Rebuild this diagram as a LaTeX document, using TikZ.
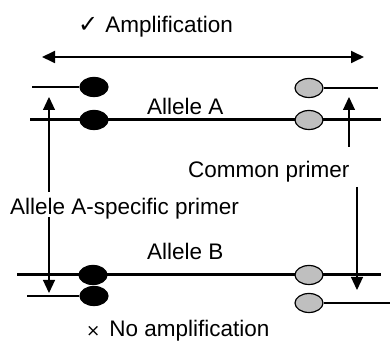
\documentclass[tikz,border=0pt]{standalone}
\usepackage{fontspec}
\setmainfont{Liberation Sans}
\newfontfamily\symfont{DejaVu Sans}
\usetikzlibrary{shapes.geometric,arrows.meta}

\begin{document}
\begin{tikzpicture}[x=1pt,y=-1pt,
  lbl/.style={font=\fontsize{22.5}{25}\selectfont, inner sep=0pt, anchor=base west},
  strand/.style={line width=3pt},
  primer/.style={line width=1.5pt},
  marker/.style={ellipse, draw=black, line width=1.2pt, minimum width=28pt,
                 minimum height=19pt, inner sep=0pt},
  snp/.style={marker, fill=black},
  common/.style={marker, fill=gray!50},
  pointer/.style={line width=1.2pt, -{Triangle[length=13pt,width=12pt]}},
  span/.style={line width=1.8pt,
               {Triangle[length=13pt,width=12pt]}-{Triangle[length=13pt,width=12pt]}},
]
\useasboundingbox (0,0) rectangle (392,347);

% labels
\node[lbl] (amp) at (78,33)
  {{\symfont\fontsize{24}{24}\selectfont ✓}\hspace{7pt}Amplification};
\node[lbl] (alA) at (147,115) {Allele A};
\node[lbl] (cpr) at (188,178) {Common primer};
\node[lbl] (asp) at (10,215) {Allele A-specific primer};
\node[lbl] (alB) at (147,260) {Allele B};
\node[lbl] (noamp) at (86,337)
  {{\symfont\fontsize{17}{17}\selectfont ×}\hspace{9pt}No amplification};

% product span
\coordinate (spL) at (42,57);
\coordinate (spR) at (364,57);
\draw[span] (spL) -- (spR);

% template strands
\coordinate (sAL) at (30,120);  \coordinate (sAR) at (381,120);
\coordinate (sBL) at (17,275);  \coordinate (sBR) at (381,275);
\draw[strand] (sAL) -- (sAR);
\draw[strand] (sBL) -- (sBR);

% markers on the strands
\node[snp]    (mA1) at (94,120) {};
\node[common] (mA2) at (309,120) {};
\node[snp]    (mB1) at (93,275) {};
\node[common] (mB2) at (309,275) {};

% primers annealed to allele A
\node[snp]    (pA1) at (94,87) {};
\node[common] (pA2) at (309,88) {};
\coordinate (pA1t) at (32,87);
\coordinate (pA2t) at (378,88);
\draw[primer] (pA1t) -- (pA1.west);
\draw[primer] (pA2.east) -- (pA2t);

% primers against allele B
\node[snp]    (pB1) at (94,296) {};
\node[common] (pB2) at (309,303) {};
\coordinate (pB1t) at (27,296);
\coordinate (pB2t) at (390,303);
\draw[primer] (pB1t) -- (pB1.west);
\draw[primer] (pB2.east) -- (pB2t);

% pointers from the primer labels
\coordinate (lu0) at (49,192); \coordinate (lu1) at (49,97);
\coordinate (ld0) at (49,217); \coordinate (ld1) at (49,293);
\coordinate (ru0) at (349,147); \coordinate (ru1) at (349,97);
\coordinate (rd0) at (357,187); \coordinate (rd1) at (357,290);
\draw[pointer] (lu0) -- (lu1);
\draw[pointer] (ld0) -- (ld1);
\draw[pointer] (ru0) -- (ru1);
\draw[pointer] (rd0) -- (rd1);
\end{tikzpicture}
\end{document}
